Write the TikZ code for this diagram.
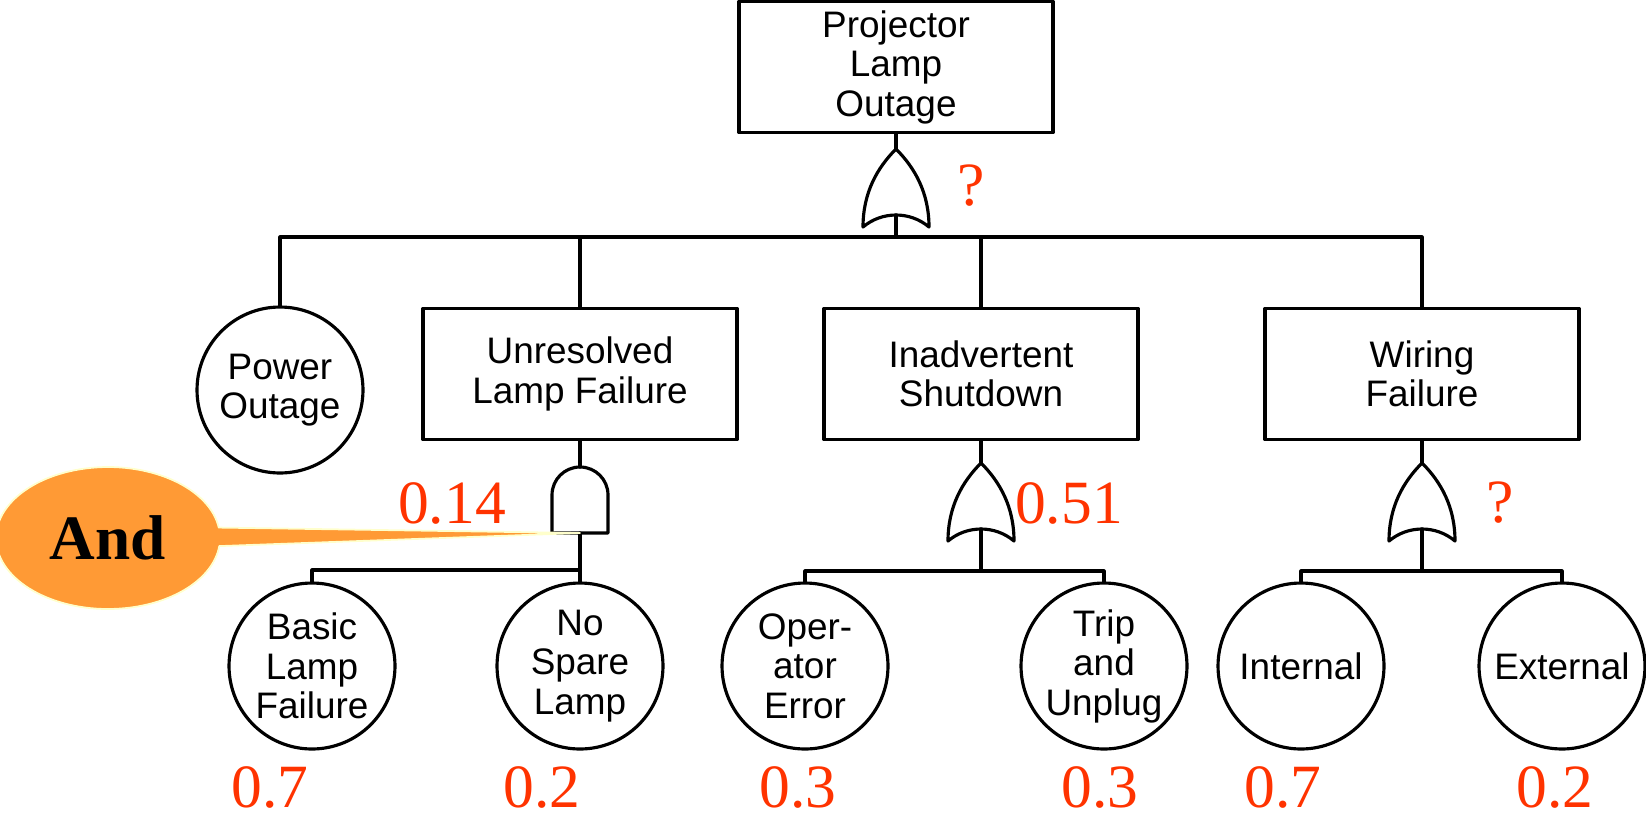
\documentclass[tikz,border=0pt]{standalone}
\usepackage{fontspec}
\setmainfont{Liberation Serif}
\newfontfamily\sansfont{Liberation Sans}
\usetikzlibrary{shapes.callouts}
\definecolor{probred}{RGB}{255,51,0}
\definecolor{noteorange}{RGB}{255,154,53}
\definecolor{noteedge}{RGB}{255,255,204}
\tikzset{
  evbox/.style={draw,minimum width=6.28cm,minimum height=2.62cm,align=center,font=\sansfont\fontsize{21}{22.5}\selectfont},
  basic/.style={draw,circle,minimum size=3.32cm,inner sep=0pt,align=center,font=\sansfont\fontsize{21}{22.5}\selectfont},
  prob/.style={text=probred,inner sep=0pt,font=\fontsize{35}{37}\selectfont},
  orgate/.pic={
    \draw (-33,78) .. controls (-33,44) and (-19,19) .. (0,0) .. controls (19,19) and (33,44) .. (33,78) .. controls (14,62) and (-14,62) .. (-33,78) -- cycle;
    \coordinate (-top) at (0,0);
    \coordinate (-bot) at (0,66);
  },
  andgate/.pic={
    \draw (-28,66) -- (-28,28) .. controls (-28,12.5) and (-15.5,0) .. (0,0) .. controls (15.5,0) and (28,12.5) .. (28,28) -- (28,66) -- cycle;
    \coordinate (-top) at (0,0);
    \coordinate (-bot) at (0,66);
  }
}

\begin{document}
\begin{tikzpicture}[line cap=round,line join=round,line width=1.8pt,x=0.02cm,y=-0.02cm]
\useasboundingbox (0,0) rectangle (1646,816);
% events
\node[evbox] (top) at (896,67) {Projector\\Lamp\\Outage};
\node[basic] (power) at (280,390) {Power\\Outage};
\node[evbox] (unres) at (580,374) {Unresolved\\Lamp Failure};
\node[evbox] (inadv) at (981,374) {Inadvertent\\Shutdown};
\node[evbox] (wiring) at (1422,374) {Wiring\\Failure};
\node[basic] (basiclamp) at (312,666) {Basic\\Lamp\\Failure};
\node[basic] (nospare) at (580,666) {No\\Spare\\Lamp};
\node[basic] (operr) at (805,666) {Oper-\\ator\\Error};
\node[basic] (trip) at (1104,666) {Trip\\and\\Unplug};
\node[basic] (internal) at (1301,666) {Internal};
\node[basic] (external) at (1562,666) {External};
% gates
\pic (g0) at (896,149) {orgate};
\pic (g1) at (580,467) {andgate};
\pic (g2) at (981,463) {orgate};
\pic (g3) at (1422,463) {orgate};
\coordinate (bar0) at (896,237);
\coordinate (bar1) at (580,570);
\coordinate (bar2) at (981,571);
\coordinate (bar3) at (1422,571);
\draw (top.south) -- (g0-top);
\draw (g0-bot) -- (bar0);
\draw (power.north) |- (bar0);
\draw (unres.north) |- (bar0);
\draw (inadv.north) |- (bar0);
\draw (wiring.north) |- (bar0);
\draw (unres.south) -- (g1-top);
\draw (g1-bot) -- (bar1);
\draw (basiclamp.north) |- (bar1);
\draw (nospare.north) |- (bar1);
\draw (inadv.south) -- (g2-top);
\draw (g2-bot) -- (bar2);
\draw (operr.north) |- (bar2);
\draw (trip.north) |- (bar2);
\draw (wiring.south) -- (g3-top);
\draw (g3-bot) -- (bar3);
\draw (internal.north) |- (bar3);
\draw (external.north) |- (bar3);
% probabilities
\node[prob] (p0) at (971,186) {?};
\node[prob] (p1) at (452,503) {0.14};
\node[prob] (p2) at (1069,503) {0.51};
\node[prob] (p3) at (1500,503) {?};
\node[prob] (pbasic) at (270,787) {0.7};
\node[prob] (pspare) at (542,787) {0.2};
\node[prob] (poper) at (798,787) {0.3};
\node[prob] (ptrip) at (1100,787) {0.3};
\node[prob] (pint) at (1283,787) {0.7};
\node[prob] (pext) at (1555,787) {0.2};
% note
\node[ellipse callout,fill=noteorange,draw=noteedge,line width=1pt,minimum width=4.48cm,minimum height=2.84cm,
  callout absolute pointer={(g1-bot)},font=\bfseries\fontsize{36}{38}\selectfont] (andnote) at (108,538) {And};
\end{tikzpicture}
\end{document}
